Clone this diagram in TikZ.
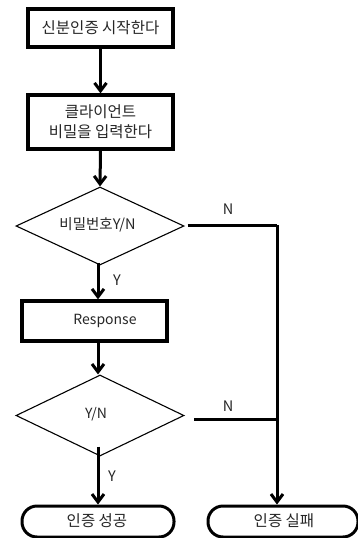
\documentclass[tikz,border=0pt]{standalone}
\usepackage{fontspec}
\setmainfont{Noto Sans CJK KR}
\usetikzlibrary{shapes.geometric,arrows.meta}
\begin{document}
\begin{tikzpicture}[x=1pt,y=-1pt,
  every node/.style={font=\fontsize{15.5}{20}\selectfont, text=black!85},
  procbox/.style={draw, line width=3.2pt, minimum width=#1, inner sep=0pt, align=center},
  decide/.style={draw, diamond, line width=1.1pt, aspect=2.15, inner sep=0pt},
  term/.style={draw, line width=3pt, rounded corners=15pt, inner sep=0pt},
  flow/.style={line width=3pt, -{Straight Barb[length=8pt,width=12pt,line width=3pt]}},
  plain/.style={line width=3pt},
  lat/.style={font=\fontsize{14}{16}\selectfont},
  lbl/.style={font=\fontsize{14.5}{16}\selectfont}]
\useasboundingbox (0,0) rectangle (358,538);
\fill[white] (0,0) rectangle (358,538);

\node[procbox=145pt, minimum height=38pt] (b1) at (100.5,28) {신분인증 시작한다};
\node[procbox=145pt, minimum height=54pt] (b2) at (100.5,122) {클라이언트\\비밀을 입력한다};
\node[decide, minimum width=168pt, minimum height=78pt] (d1) at (100,226) {};
\node[font=\fontsize{14.5}{16}\selectfont] at (97.5,225) {비밀번호Y/N};
\node[procbox=145pt, minimum height=40pt] (b3) at (94.5,321) {};
\node[lat] at (105,321) {Response};
\node[decide, minimum width=168pt, minimum height=81pt] (d2) at (100,415.5) {};
\node[lat] at (96,414) {Y/N};
\node[term, minimum width=152pt, minimum height=31pt] (ok) at (98,521.5) {};
\node at (97,521) {인증 성공};
\node[term, minimum width=150pt, minimum height=31pt] (ng) at (283,521.5) {};
\node at (284,521) {인증 실패};

\coordinate (j1) at (277,225);
\coordinate (j2) at (277,419);
\coordinate (s2) at (194,419);

\draw[flow] (b1.south) -- (b1.south |- b2.north);
\draw[flow] (b2.south) -- (d1.north);
\draw[flow] ([yshift=3pt]d1.south -| 98,0) -- (98,0 |- b3.north);
\draw[flow] (98,0 |- b3.south) -- (98,0 |- d2.north);
\draw[flow] ([yshift=10pt]d2.south -| 98,0) -- (98,0 |- ok.north);
\draw[plain] ([xshift=3pt]d1.east |- j1) -- (j1);
\draw[flow] (j1) -- (j1 |- ng.north);
\draw[plain] (s2) -- (j2);

\node[lbl] at (228,209) {N};
\node[lbl] at (117,280) {Y};
\node[lbl] at (228,406) {N};
\node[lbl] at (112,476) {Y};
\end{tikzpicture}
\end{document}
